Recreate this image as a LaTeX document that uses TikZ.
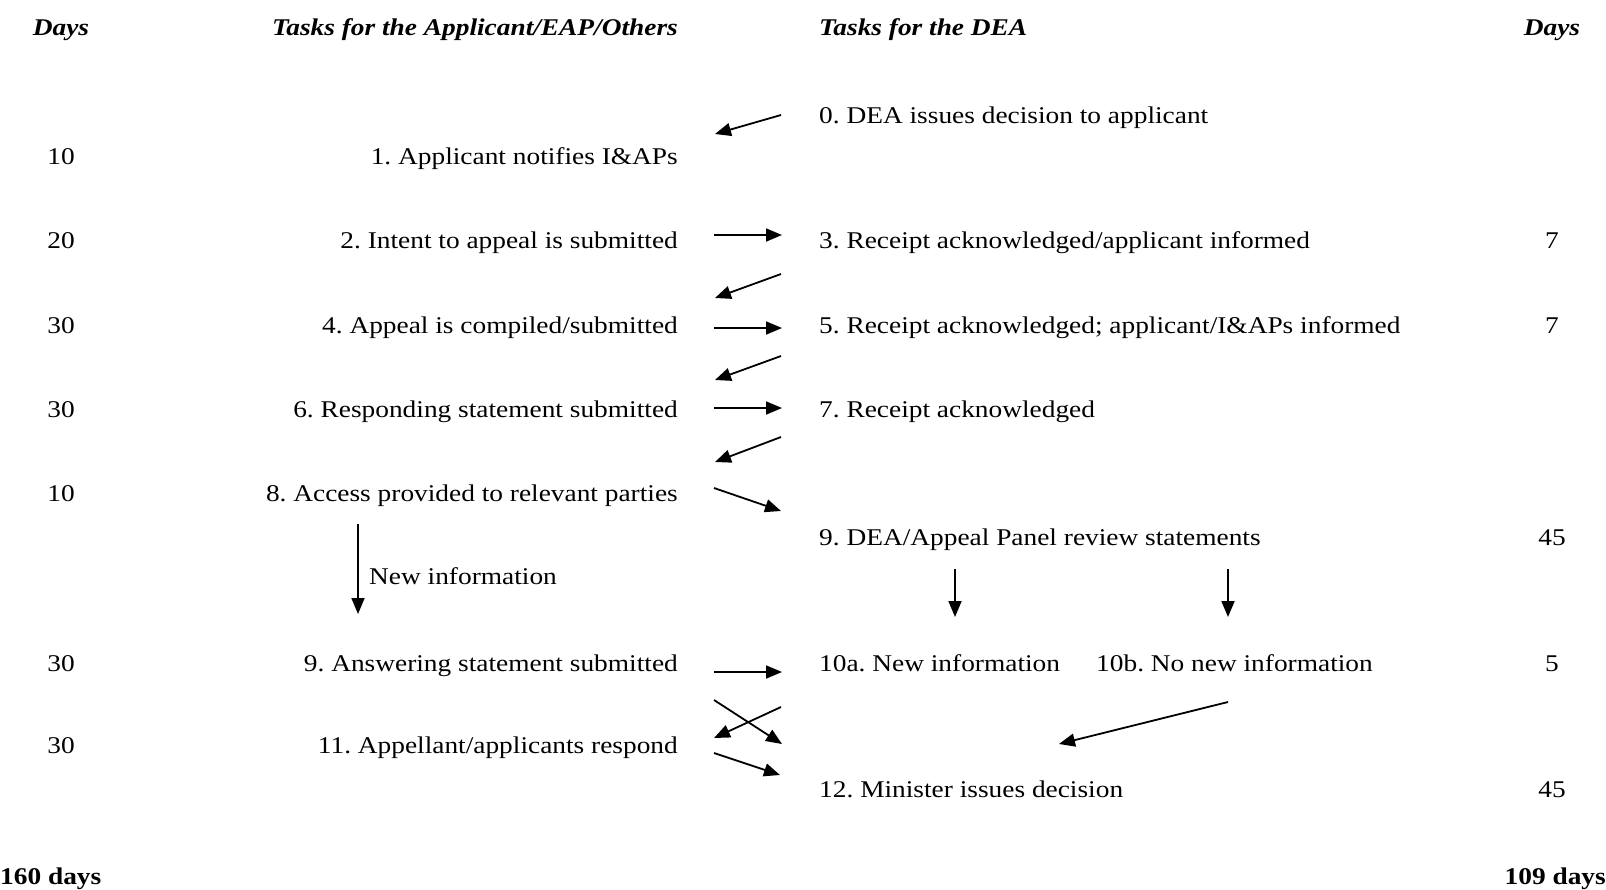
\documentclass[tikz,border=0pt]{standalone}
\usepackage{fontspec}
\setmainfont{Liberation Serif}[FakeStretch=1.14]
\usetikzlibrary{arrows.meta}
\begin{document}
\frenchspacing
\begin{tikzpicture}[x=1pt,y=-1pt,
  txt/.style={font=\fontsize{24}{27}\selectfont, inner sep=0pt},
  hdr/.style={font=\fontsize{24}{27}\selectfont\bfseries\itshape, inner sep=0pt},
  ftr/.style={font=\fontsize{24}{27}\selectfont\bfseries, inner sep=0pt},
  ltask/.style={txt, anchor=mid east},
  rtask/.style={txt, anchor=mid west},
  day/.style={txt, anchor=mid},
  arr/.style={-{Triangle[length=16pt,width=13pt]}, line width=1.8pt}]
\useasboundingbox (0,0) rectangle (1606,889);
% headers
\node[hdr, anchor=mid] (hd1) at (61,33) {Days};
\node[hdr, anchor=mid east] (hd2) at (678,33) {Tasks for the Applicant/EAP/Others};
\node[hdr, anchor=mid west] (hd3) at (819,33) {Tasks for the DEA};
\node[hdr, anchor=mid] (hd4) at (1552,33) {Days};
% left days
\node[day] (d1) at (61,162) {10};
\node[day] (d2) at (61,246) {20};
\node[day] (d4) at (61,331) {30};
\node[day] (d6) at (61,415) {30};
\node[day] (d8) at (61,499) {10};
\node[day] (d9) at (61,669) {30};
\node[day] (d11) at (61,751) {30};
% right days
\node[day] (r3) at (1552,246) {7};
\node[day] (r5) at (1552,331) {7};
\node[day] (r9) at (1552,543) {45};
\node[day] (r10) at (1552,669) {5};
\node[day] (r12) at (1552,795) {45};
% left tasks
\node[ltask] (t1) at (678,162) {1. Applicant notifies I\&APs};
\node[ltask] (t2) at (678,246) {2. Intent to appeal is submitted};
\node[ltask] (t4) at (678,331) {4. Appeal is compiled/submitted};
\node[ltask] (t6) at (678,415) {6. Responding statement submitted};
\node[ltask] (t8) at (678,499) {8. Access provided to relevant parties};
\node[ltask] (t9) at (678,669) {9. Answering statement submitted};
\node[ltask] (t11) at (678,751) {11. Appellant/applicants respond};
% DEA tasks
\node[rtask] (t0) at (819,121) {0. DEA issues decision to applicant};
\node[rtask] (t3) at (819,246) {3. Receipt acknowledged/applicant informed};
\node[rtask] (t5) at (819,331) {5. Receipt acknowledged; applicant/I\&APs informed};
\node[rtask] (t7) at (819,415) {7. Receipt acknowledged};
\node[rtask] (t9d) at (819,543) {9. DEA/Appeal Panel review statements};
\node[rtask] (t10a) at (819,669) {10a. New information};
\node[rtask] (t10b) at (1096,669) {10b. No new information};
\node[rtask] (t12) at (819,795) {12. Minister issues decision};
\node[rtask] (ni) at (369,582) {New information};
% footer
\node[ftr, anchor=mid west] (f1) at (0,882) {160 days};
\node[ftr, anchor=mid east] (f2) at (1606,882) {109 days};
% arrow end points
\coordinate (a0s) at (781,115); \coordinate (a0e) at (715,134);
\coordinate (a2s) at (714,235); \coordinate (a2e) at (782,235);
\coordinate (a3s) at (781,274); \coordinate (a3e) at (715,298);
\coordinate (a4s) at (714,328); \coordinate (a4e) at (782,328);
\coordinate (a5s) at (781,356); \coordinate (a5e) at (715,380);
\coordinate (a6s) at (714,408); \coordinate (a6e) at (782,408);
\coordinate (a7s) at (781,437); \coordinate (a7e) at (715,462);
\coordinate (a8s) at (714,488); \coordinate (a8e) at (781,511);
\coordinate (a8vs) at (358,524); \coordinate (a8ve) at (358,614);
\coordinate (a9as) at (955,569); \coordinate (a9ae) at (955,617);
\coordinate (a9bs) at (1228,569); \coordinate (a9be) at (1228,617);
\coordinate (a9s) at (714,672); \coordinate (a9e) at (782,672);
\coordinate (axs) at (714,700); \coordinate (axe) at (782,744);
\coordinate (ays) at (781,707); \coordinate (aye) at (714,738);
\coordinate (a11s) at (714,753); \coordinate (a11e) at (780,775);
\coordinate (a10s) at (1228,702); \coordinate (a10e) at (1059,744);
% arrows
\draw[arr] (a0s) -- (a0e);
\draw[arr] (a2s) -- (a2e);
\draw[arr] (a3s) -- (a3e);
\draw[arr] (a4s) -- (a4e);
\draw[arr] (a5s) -- (a5e);
\draw[arr] (a6s) -- (a6e);
\draw[arr] (a7s) -- (a7e);
\draw[arr] (a8s) -- (a8e);
\draw[arr] (a8vs) -- (a8ve);
\draw[arr] (a9as) -- (a9ae);
\draw[arr] (a9bs) -- (a9be);
\draw[arr] (a9s) -- (a9e);
\draw[arr] (axs) -- (axe);
\draw[arr] (ays) -- (aye);
\draw[arr] (a11s) -- (a11e);
\draw[arr] (a10s) -- (a10e);
\end{tikzpicture}
\end{document}
